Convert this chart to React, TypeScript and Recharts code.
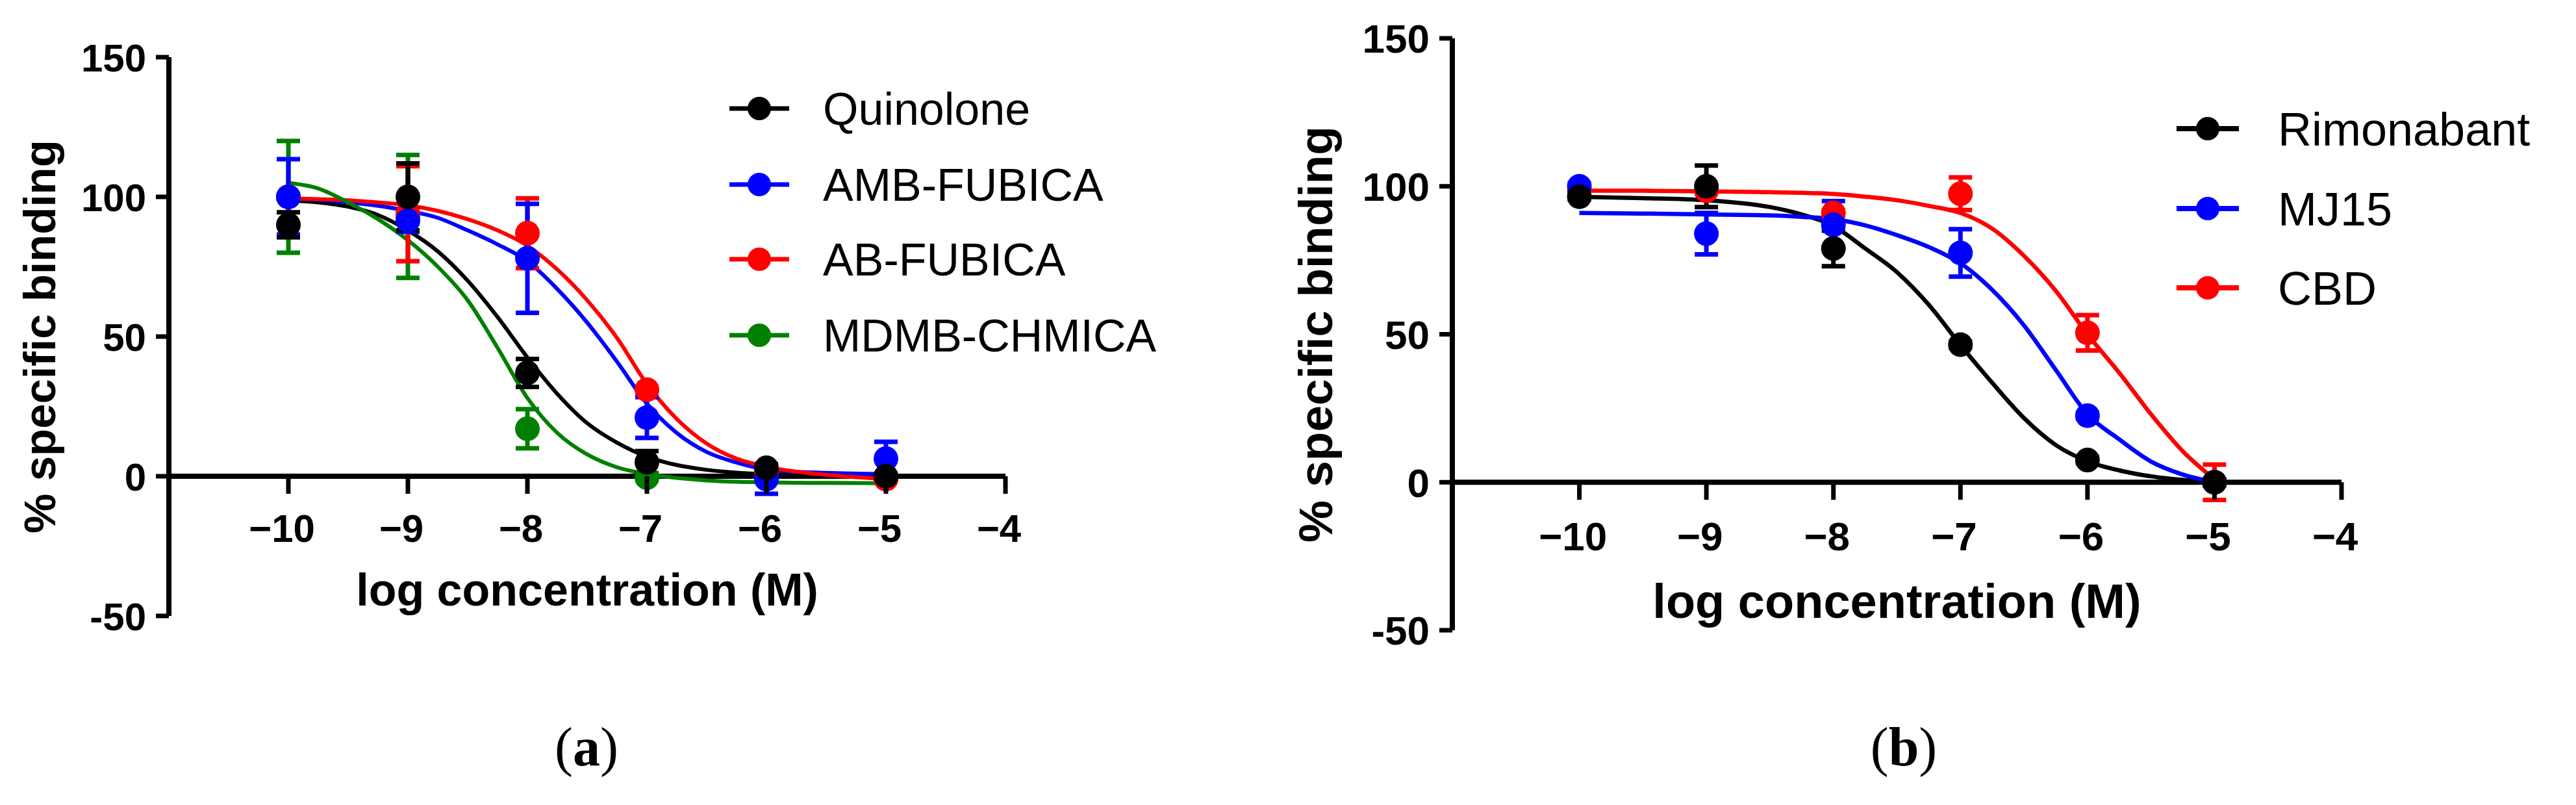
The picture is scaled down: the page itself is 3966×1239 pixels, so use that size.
import React from "react";
import {
  ComposedChart,
  Line,
  Scatter,
  ErrorBar,
  XAxis,
  YAxis,
  ReferenceLine,
  Legend,
  Label,
} from "recharts";

const FONT = "'Liberation Sans', Arial, Helvetica, sans-serif";
const SERIF = "'Liberation Serif', 'Times New Roman', serif";

// shared axes
const concentrations = [-10, -9, -8, -7, -6, -5];
const xTicks = [-10, -9, -8, -7, -6, -5, -4];
const yTicks = [-50, 0, 50, 100, 150];

// ---- panel (a): measured points (mean, error) ----
const quinolone = [90, 100, 37, 5, 3, 0];
const quinoloneErr = [4.5, 12, 5, 4, 1, 1];
const ambFubica = [100, 91.5, 78, 21, -1, 6.3];
const ambFubicaErr = [13.5, 4, 19.5, 7.3, 5.3, 6];
const abFubica = [100, 94, 87, 31, 1.5, -1];
const abFubicaErr = [1, 17, 12.5, 1, 1, 1];
const mdmbChmica = [100, 93, 17, -0.5, -1, -1];
const mdmbChmicaErr = [20, 22, 7, 1, 1, 1];

// ---- panel (a): fitted curves ----
const fitXA = [-10, -9.75, -9.5, -9.25, -9, -8.75, -8.5, -8.25, -8, -7.75, -7.5, -7.25, -7, -6.75, -6.5, -6.25, -6, -5.5, -5];
const quinoloneFit = [98.8, 98, 96.5, 93.5, 88, 80.5, 70, 57, 42.5, 29.5, 19, 12, 7, 4, 2.3, 1.3, 0.8, 0.3, 0.1];
const ambFubicaFit = [99.5, 99, 98, 96.8, 95, 92.5, 88, 83, 77, 67, 55, 41, 26, 15.5, 8.7, 4.9, 2.4, 1.2, 0.8];
const abFubicaFit = [99.5, 99.2, 98.8, 98, 97, 95, 92, 88, 82.5, 74, 63, 49.5, 33, 20.5, 11.7, 6.3, 3.4, 0.5, -1];
const mdmbChmicaFit = [105, 103, 98, 92, 84.5, 75, 63, 46, 28, 15.5, 7.8, 3.2, 0.8, -0.6, -1.5, -2, -2.2, -2.4, -2.5];

// ---- panel (b): measured points ----
const rimonabant = [96.5, 100, 79, 46.5, 7.5, 0];
const rimonabantErr = [1, 7, 6, 1, 1, 1];
const mj15 = [100, 84, 87, 77.5, 22.5, 0];
const mj15Err = [1, 7, 8, 8, 1, 1];
const cbd = [98.5, 98.5, 91, 97.5, 50.5, 0];
const cbdErr = [1, 1, 1, 5.5, 6, 6];

// ---- panel (b): fitted curves ----
const fitXB = [-10, -9.5, -9, -8.5, -8.25, -8, -7.75, -7.5, -7.25, -7, -6.75, -6.5, -6.25, -6, -5.75, -5.5, -5.25, -5];
const rimonabantFit = [96.4, 96, 95.3, 93, 90.5, 86.6, 79, 71, 60, 46.4, 33.6, 21.7, 12.6, 7.1, 4, 2, 0.8, 0];
const mj15Fit = [91, 90.8, 90.5, 90.2, 89.7, 88.9, 86.8, 83.5, 79.5, 74, 65, 53, 38, 23, 14.5, 7, 2.6, 0];
const cbdFit = [98.5, 98.5, 98.3, 98, 97.8, 97.4, 96.5, 95.3, 93.4, 91, 85.7, 76.5, 64.7, 50, 37, 23, 10.5, 1];

type Series = {
  name: string;
  color: string;
  y: number[];
  err: number[];
  fitX: number[];
  fit: number[];
};

const seriesA: Series[] = [
  { name: "Quinolone", color: "#000000", y: quinolone, err: quinoloneErr, fitX: fitXA, fit: quinoloneFit },
  { name: "AMB-FUBICA", color: "#0000ff", y: ambFubica, err: ambFubicaErr, fitX: fitXA, fit: ambFubicaFit },
  { name: "AB-FUBICA", color: "#ff0000", y: abFubica, err: abFubicaErr, fitX: fitXA, fit: abFubicaFit },
  { name: "MDMB-CHMICA", color: "#008000", y: mdmbChmica, err: mdmbChmicaErr, fitX: fitXA, fit: mdmbChmicaFit },
];

const seriesB: Series[] = [
  { name: "Rimonabant", color: "#000000", y: rimonabant, err: rimonabantErr, fitX: fitXB, fit: rimonabantFit },
  { name: "MJ15", color: "#0000ff", y: mj15, err: mj15Err, fitX: fitXB, fit: mj15Fit },
  { name: "CBD", color: "#ff0000", y: cbd, err: cbdErr, fitX: fitXB, fit: cbdFit },
];

type Geo = {
  left: number;
  width: number;
  plotLeft: number;
  plotTop: number;
  plotRight: number;
  plotBottom: number;
  tickFont: number;
  xTickDy: number;
  axisFont: number;
  xLabelDy: number;
  yLabelX: number;
  dotR: number;
  curveW: number;
  legend: { left: number; top: number; rows: number[]; x1: number; x2: number; textX: number; font: number; lineW: number };
};

const H = 1239;

const geoA: Geo = {
  left: 0,
  width: 1900,
  plotLeft: 260,
  plotTop: 88,
  plotRight: 1548,
  plotBottom: 948,
  tickFont: 60,
  xTickDy: 101,
  axisFont: 70,
  xLabelDy: 199,
  yLabelX: 85,
  dotR: 19,
  curveW: 6,
  legend: { left: 1100, top: 130, rows: [37, 154, 269, 386], x1: 23, x2: 115, textX: 167, font: 70, lineW: 7 },
};

const geoB: Geo = {
  left: 1950,
  width: 2016,
  plotLeft: 2236,
  plotTop: 59,
  plotRight: 3605,
  plotBottom: 970,
  tickFont: 62,
  xTickDy: 105,
  axisFont: 74,
  xLabelDy: 209,
  yLabelX: 101,
  dotR: 19,
  curveW: 6.5,
  legend: { left: 1380, top: 150, rows: [48, 171, 293], x1: 21, x2: 117, textX: 177, font: 72, lineW: 8 },
};

const fmtX = (v: number) => (v < 0 ? "\u2212" + Math.abs(v) : String(v));

const Panel: React.FC<{ g: Geo; series: Series[] }> = ({ g, series }) => {
  const plotLeftLocal = g.plotLeft - g.left;
  const plotH = g.plotBottom - g.plotTop;
  const zeroY = g.plotTop + (plotH * 150) / 200;
  const midX = (g.plotLeft + g.plotRight) / 2 - g.left;
  const midY = (g.plotTop + g.plotBottom) / 2;

  const xTick = (p: any) => (
    <g>
      <line x1={p.x} x2={p.x} y1={zeroY} y2={zeroY + 27} stroke="#000" strokeWidth={7} />
      <text x={p.x - 10} y={zeroY + g.xTickDy} textAnchor="middle" fontSize={g.tickFont} fontWeight="bold" fontFamily={FONT} fill="#000">
        {fmtX(p.payload.value)}
      </text>
    </g>
  );

  const yTick = (p: any) => (
    <text x={p.x} y={p.y} dy={g.tickFont * 0.36} textAnchor="end" fontSize={g.tickFont} fontWeight="bold" fontFamily={FONT} fill="#000">
      {String(p.payload.value)}
    </text>
  );

  const lg = g.legend;
  const legendBox = () => (
    <svg width={700} height={440} style={{ display: "block" }}>
      {series.map((s, i) => (
        <g key={s.name}>
          <line x1={lg.x1} x2={lg.x2} y1={lg.rows[i]} y2={lg.rows[i]} stroke={s.color} strokeWidth={lg.lineW} />
          <circle cx={(lg.x1 + lg.x2) / 2} cy={lg.rows[i]} r={18} fill={s.color} />
          <text x={lg.textX} y={lg.rows[i] + lg.font * 0.36} fontSize={lg.font} fontFamily={FONT} fill="#000">
            {s.name}
          </text>
        </g>
      ))}
    </svg>
  );

  return (
    <div style={{ position: "absolute", left: g.left, top: 0 }}>
      <ComposedChart
        width={g.width}
        height={H}
        margin={{ top: g.plotTop, right: g.left + g.width - g.plotRight, bottom: H - g.plotBottom - 1, left: 0 }}
      >
        <XAxis
          type="number"
          dataKey="x"
          domain={[-11, -4]}
          ticks={xTicks}
          interval={0}
          height={1}
          axisLine={false}
          tickLine={false}
          tick={xTick}
          allowDataOverflow
        >
          <Label
            content={() => (
              <text x={midX} y={zeroY + g.xLabelDy} textAnchor="middle" fontSize={g.axisFont} fontWeight="bold" fontFamily={FONT} fill="#000">
                log concentration (M)
              </text>
            )}
          />
        </XAxis>
        <YAxis
          type="number"
          dataKey="y"
          domain={[-50, 150]}
          ticks={yTicks}
          interval={0}
          width={plotLeftLocal}
          axisLine={{ stroke: "#000", strokeWidth: 8 }}
          tickLine={{ stroke: "#000", strokeWidth: 7 }}
          tickSize={20}
          tickMargin={15}
          tick={yTick}
          allowDataOverflow
        >
          <Label
            content={() => (
              <text
                x={g.yLabelX}
                y={midY}
                transform={`rotate(-90 ${g.yLabelX} ${midY})`}
                textAnchor="middle"
                fontSize={g.axisFont - 1}
                fontWeight="bold"
                fontFamily={FONT}
                fill="#000"
              >
                % specific binding
              </text>
            )}
          />
        </YAxis>
        <ReferenceLine y={0} stroke="#000" strokeWidth={8} />
        {series.map((s) => (
          <Line
            key={"fit-" + s.name}
            data={s.fitX.map((x, i) => ({ x, y: s.fit[i] }))}
            dataKey="y"
            type="monotone"
            stroke={s.color}
            strokeWidth={g.curveW}
            dot={false}
            activeDot={false}
            legendType="none"
            isAnimationActive={false}
          />
        ))}
        {[...series].reverse().map((s) => (
          <Scatter
            key={"pts-" + s.name}
            data={concentrations.map((x, i) => ({ x, y: s.y[i], e: s.err[i] }))}
            dataKey="y"
            fill={s.color}
            legendType="none"
            isAnimationActive={false}
            shape={(p: any) => <circle cx={p.cx} cy={p.cy} r={g.dotR} fill={s.color} />}
          >
            <ErrorBar dataKey="e" direction="y" width={18} strokeWidth={7} stroke={s.color} isAnimationActive={false} />
          </Scatter>
        ))}
        <Legend
          layout="horizontal"
          align="center"
          verticalAlign="middle"
          wrapperStyle={{ left: lg.left, top: lg.top, width: 700, height: 440 }}
          content={legendBox}
        />
      </ComposedChart>
    </div>
  );
};

export default function App() {
  return (
    <div style={{ position: "absolute", left: 0, top: 0, width: 3966, height: H, background: "#fff", overflow: "hidden" }}>
      <Panel g={geoA} series={seriesA} />
      <Panel g={geoB} series={seriesB} />
      <svg width={3966} height={H} style={{ position: "absolute", left: 0, top: 0, pointerEvents: "none" }}>
        <text x={903} y={1178} textAnchor="middle" fontSize={84} fontFamily={SERIF} fill="#000">
          (<tspan fontWeight="bold">a</tspan>)
        </text>
        <text x={2931} y={1178} textAnchor="middle" fontSize={84} fontFamily={SERIF} fill="#000">
          (<tspan fontWeight="bold">b</tspan>)
        </text>
      </svg>
    </div>
  );
}
